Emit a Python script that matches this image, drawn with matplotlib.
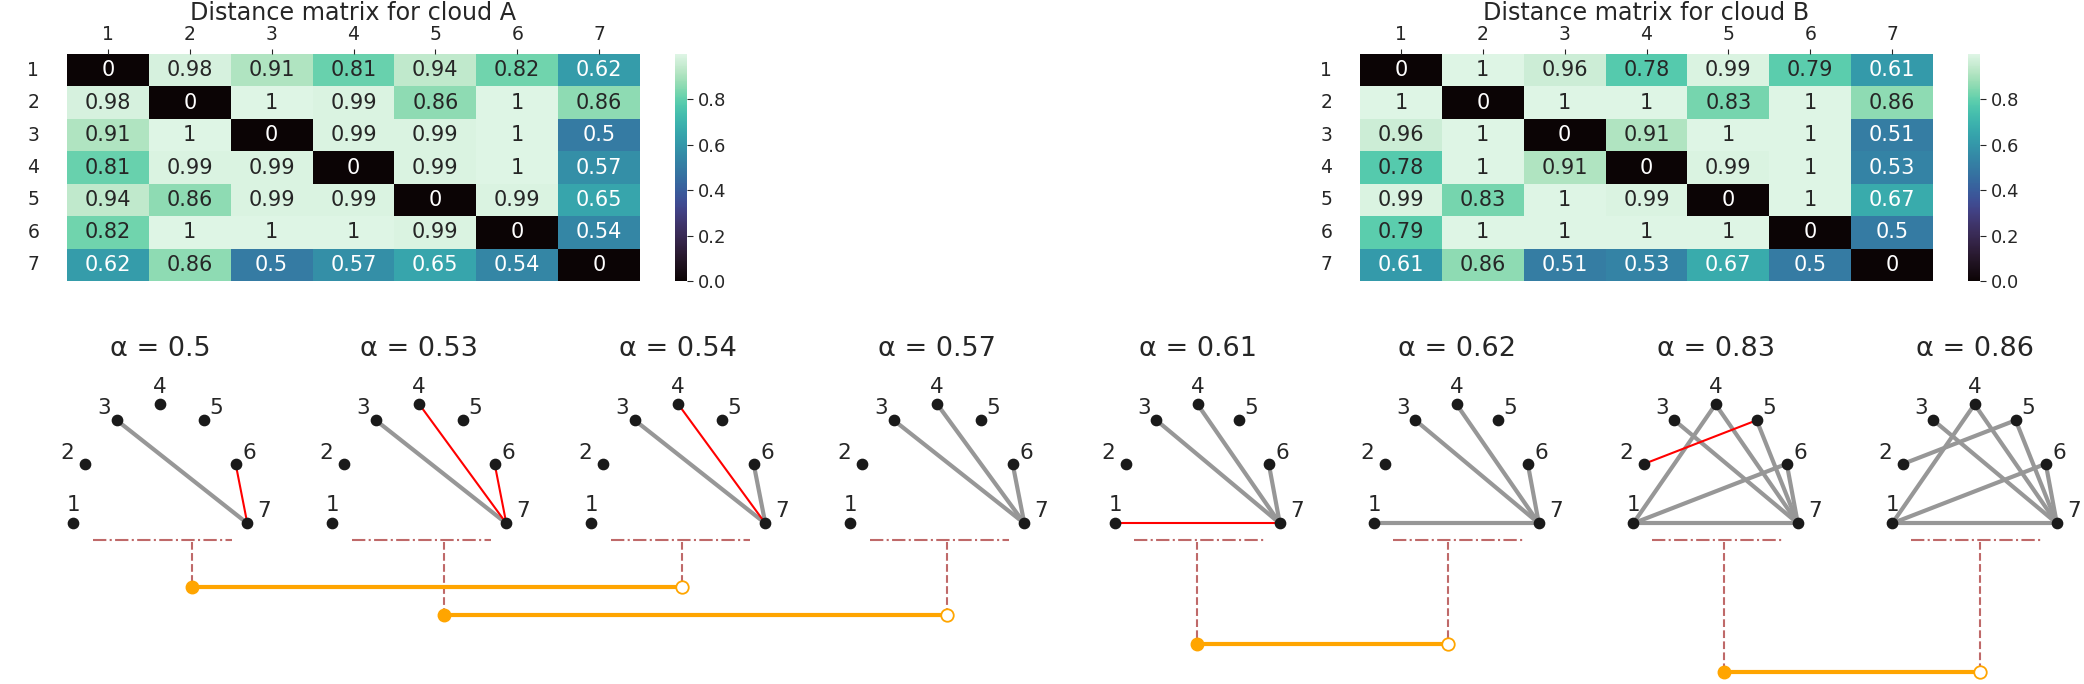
import numpy as np
import matplotlib
matplotlib.use("Agg")
import matplotlib.pyplot as plt
import seaborn as sns

plt.rcParams['font.family'] = ['DejaVu Sans']
plt.rcParams['text.color'] = '#262626'
plt.rcParams['xtick.color'] = '#262626'
plt.rcParams['ytick.color'] = '#262626'

# distance matrices of the two point clouds
labels = ['1', '2', '3', '4', '5', '6', '7']
dist_a = [
    [0, 0.98, 0.91, 0.81, 0.94, 0.82, 0.62],
    [0.98, 0, 1, 0.99, 0.86, 1, 0.86],
    [0.91, 1, 0, 0.99, 0.99, 1, 0.5],
    [0.81, 0.99, 0.99, 0, 0.99, 1, 0.57],
    [0.94, 0.86, 0.99, 0.99, 0, 0.99, 0.65],
    [0.82, 1, 1, 1, 0.99, 0, 0.54],
    [0.62, 0.86, 0.5, 0.57, 0.65, 0.54, 0],
]
dist_b = [
    [0, 1, 0.96, 0.78, 0.99, 0.79, 0.61],
    [1, 0, 1, 1, 0.83, 1, 0.86],
    [0.96, 1, 0, 0.91, 1, 1, 0.51],
    [0.78, 1, 0.91, 0, 0.99, 1, 0.53],
    [0.99, 0.83, 1, 0.99, 0, 1, 0.67],
    [0.79, 1, 1, 1, 1, 0, 0.5],
    [0.61, 0.86, 0.51, 0.53, 0.67, 0.5, 0],
]

# graph layout of the 7 points
node_x = [-1.0, -0.866, -0.5, 0.0, 0.5, 0.866, 1.0]
node_y = [0.0, 0.5, 0.866, 1.0, 0.866, 0.5, 0.0]

# filtration steps: edges present in A (gray) and only in B (red)
alphas = [0.5, 0.53, 0.54, 0.57, 0.61, 0.62, 0.83, 0.86]
gray_edges = [
    [(3, 7)],
    [(3, 7)],
    [(3, 7), (6, 7)],
    [(3, 7), (4, 7), (6, 7)],
    [(3, 7), (4, 7), (6, 7)],
    [(1, 7), (3, 7), (4, 7), (6, 7)],
    [(1, 7), (3, 7), (4, 7), (6, 7), (5, 7), (1, 4), (1, 6)],
    [(1, 7), (3, 7), (4, 7), (6, 7), (5, 7), (1, 4), (1, 6), (2, 5)],
]
red_edges = [
    [(6, 7)],
    [(4, 7), (6, 7)],
    [(4, 7)],
    [],
    [(1, 7)],
    [],
    [(2, 5)],
    [],
]

# barcode intervals
births = [0.5, 0.53, 0.61, 0.83]
deaths = [0.54, 0.57, 0.62, 0.86]

W, H = 2084, 684
fig = plt.figure(figsize=(W / 100, H / 100), dpi=100)


def px_axes(left, top, width, height):
    return fig.add_axes([left / W, 1 - (top + height) / H, width / W, height / H])


# heatmaps
for mat, name, left in [(dist_a, 'A', 67), (dist_b, 'B', 1360)]:
    ax = px_axes(left, 54, 573, 227)
    cax = px_axes(left + 608, 54, 12, 227)
    sns.heatmap(np.array(mat, dtype=float), ax=ax, cbar_ax=cax, cmap='mako',
                vmin=0, vmax=0.999, annot=True, fmt='.2g',
                annot_kws={'size': 15},
                xticklabels=labels, yticklabels=labels)
    ax.xaxis.tick_top()
    ax.tick_params(axis='x', top=True, bottom=False, labeltop=True,
                   labelbottom=False, length=3.5, labelsize=13.5)
    ax.tick_params(axis='y', length=0, pad=20, labelsize=13.5)
    plt.setp(ax.get_yticklabels(), rotation=0)
    ax.set_title('Distance matrix for cloud ' + name, fontsize=17.2, pad=1.5)
    cax.tick_params(labelsize=13, length=4)

# graph panels
group_left = [73.3, 1115.3]
group_width = [174, 164.5]
panel_step = 259
label_offsets = [(0, 8.6), (-12.7, 3.6), (-9, 4.3), (0, 8.4),
                 (8.9, 4.3), (9.7, 3.6), (12.2, 4.8)]
# where the barcode link leaves each panel (fraction of the node span)
link_frac = [0.682, 0.644, 0.521, 0.556, 0.495, 0.448, 0.551, 0.533]

link_px = []
for i, a in enumerate(alphas):
    g = i // 4
    left = group_left[g] + (i % 4) * panel_step
    link_px.append(left + link_frac[i] * group_width[g])
    ax = px_axes(left, 404.3, group_width[g], 119)
    ax.set_xlim(-1, 1)
    ax.set_ylim(0, 1)
    ax.axis('off')
    for u, v in gray_edges[i]:
        ax.plot([node_x[u - 1], node_x[v - 1]], [node_y[u - 1], node_y[v - 1]],
                color='#979797', lw=3, zorder=1, clip_on=False)
    for u, v in red_edges[i]:
        ax.plot([node_x[u - 1], node_x[v - 1]], [node_y[u - 1], node_y[v - 1]],
                color='red', lw=1.5, zorder=2, clip_on=False)
    ax.scatter(node_x, node_y, s=55, color='#1a1a1a', zorder=3, clip_on=False)
    for k, lab in enumerate(labels):
        ax.annotate(lab, (node_x[k], node_y[k]), xytext=label_offsets[k],
                    textcoords='offset points', ha='center', va='baseline',
                    fontsize=15.5, annotation_clip=False)
    ax.set_title(f'α = {a}', fontsize=19.5, pad=34.5)
    ax.plot([0.115, 0.91], [-0.14, -0.14], transform=ax.transAxes,
            color='brown', alpha=0.7, lw=1.5, ls='-.', clip_on=False)

# barcode
bax = px_axes(0, 542, W, H - 542)
bax.set_xlim(0, W)
bax.set_ylim(3.424, -1.588)
bax.axis('off')
ytop = bax.get_ylim()[1]
for k, (b, d) in enumerate(zip(births, deaths)):
    xb = link_px[alphas.index(b)]
    xd = link_px[alphas.index(d)]
    bax.vlines([xb, xd], ytop, k, colors='brown', alpha=0.7, lw=1.5,
               linestyles='--', zorder=1)
    bax.plot([xb, xd], [k, k], color='orange', lw=3, zorder=2)
    bax.plot(xb, k, 'o', color='orange', ms=9, zorder=3)
    bax.plot(xd, k, 'o', mfc='white', mec='orange', mew=1.3, ms=9, zorder=3)

fig.savefig('out.png', dpi=100)
